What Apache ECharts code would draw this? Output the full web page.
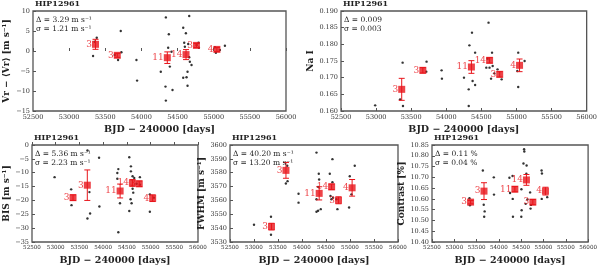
<!DOCTYPE html>
<html><head><meta charset="utf-8">
<script src="https://cdn.jsdelivr.net/npm/echarts@6/dist/echarts.min.js"></script>
<style>html,body{margin:0;padding:0;background:#fff}#c{width:600px;height:267px}</style>
</head><body><div id="c"></div>
<script>
// ---- data ----
const xTicks = [52500, 53000, 53500, 54000, 54500, 55000, 55500, 56000];
const binTimes = [53365, 53666, 54358, 54617, 54761, 55044];
const binCounts = [3, 3, 11, 14, 3, 4];

// RV
const rvT = [53382,53331,53354,53714,53677,53723,53631,53931,53940,54338,54379,54370,54416,54268,54393,54333,54430,54338,54661,54578,54615,54592,54601,54647,54661,54670,54693,54638,54624,54578,54638,54790,54795,54763,55030,55155,55016,55085];
const rvV = [3.3,-1.25,2.3,5.0,-2.25,-0.33,-1.0,-2.25,-7.4,8.4,4.17,0.83,-0.17,-5.17,-3.9,-8.9,-9.75,-12.4,8.75,5.83,4.42,2.08,1.08,1.75,-1.58,-2.67,-3.5,-5.17,-6.58,-6.67,-8.67,2.08,0.83,1.5,-0.42,1.33,0.92,0.25];
const rvBin = [1.67,-1.08,-1.67,-0.9,1.4,0.4];
const rvErr = [1.25,0.5,1.45,1.25,0.5,0.5];

// Na I
const naT = [52987,53378,53383,53342,53719,53715,53933,53938,54366,54329,54411,54252,54320,54375,54411,54320,54602,54652,54661,54570,54638,54684,54616,54588,54730,54789,55025,55116,55025,55012];
const naV = [0.1617,0.1745,0.1615,0.1635,0.1748,0.1718,0.1722,0.1697,0.1835,0.1797,0.1775,0.170,0.1665,0.169,0.1678,0.1615,0.1865,0.1775,0.1735,0.173,0.1697,0.1713,0.173,0.1757,0.1725,0.1695,0.1775,0.175,0.1672,0.172];
const naBin = [0.1665,0.1722,0.1732,0.1752,0.171,0.1737];
const naErr = [0.0033,0.0008,0.0019,0.0008,0.0008,0.0019];

// BIS
const bisT = [52976,53669,53326,53333,53711,53669,53725,53914,53921,54320,54299,54299,54355,54320,54551,54586,54586,54621,54656,54621,54635,54579,54600,54551,54775,54705,54775,54985,54985,55069];
const bisV = [-11.6,-2.0,-16.0,-21.7,-17.0,-26.5,-24.7,-4.6,-22.2,-8.7,-10.1,-12.2,-21.0,-31.5,-4.4,-7.7,-9.5,-11.3,-11.9,-15.8,-17.2,-19.6,-21.0,-23.8,-11.6,-14.0,-14.3,-17.8,-24.1,-19.0];
const bisBin = [-19.0,-14.5,-16.6,-13.7,-14.0,-19.2];
const bisErr = [1.0,5.5,2.5,1.2,1.0,1.2];

// FWHM
const fwT = [53000,53354,53354,53692,53664,53699,53928,53928,54302,54350,54357,54336,54302,54302,54336,54391,54579,54634,54634,54593,54648,54613,54738,54717,54995,55099,54981,55030];
const fwV = [3542.5,3548.2,3535.2,3585,3572.2,3573.9,3564.8,3558.4,3594.5,3579.3,3575.1,3569.8,3560.8,3551.8,3552.5,3553.7,3579.3,3589.8,3573.2,3563.2,3562.0,3560.8,3553.7,3560.8,3577.4,3585,3554.9,3564.4];
const fwBin = [3541.1,3581.7,3565.1,3569.8,3560.1,3569.1];
const fwErr = [2.4,5.7,4.75,2.0,2.5,6.0];

// Contrast
const ctT = [53340,53350,53640,53660,53680,53670,53886,53890,54236,54250,54306,54310,54315,54502,54505,54510,54551,54565,54570,54621,54615,54600,54640,54700,54720,54710,54957,54965,54960,55083];
const ctV = [10.603,10.57,10.732,10.573,10.542,10.517,10.70,10.62,10.698,10.627,10.706,10.60,10.517,10.517,10.645,10.547,10.764,10.83,10.82,10.755,10.717,10.577,10.597,10.63,10.572,10.555,10.732,10.718,10.60,10.608];
const ctBin = [10.585,10.636,10.645,10.688,10.585,10.636];
const ctErr = [0.008,0.039,0.012,0.025,0.012,0.018];

const yNames = ['Vr − ⟨Vr⟩ [m s⁻¹]', 'Na I', 'BIS [m s⁻¹]', 'FWHM [m s⁻¹]', 'Contrast [%]'];
const statText = [
  ['Δ = 3.29 m s⁻¹', 'σ = 1.21 m s⁻¹'],
  ['Δ = 0.009', 'σ = 0.003'],
  ['Δ = 5.36 m s⁻¹', 'σ = 2.23 m s⁻¹'],
  ['Δ = 40.20 m s⁻¹', 'σ = 13.20 m s⁻¹'],
  ['Δ = 0.11 %', 'σ = 0.04 %']
];
const objName = 'HIP12961';
const xName = 'BJD − 240000 [days]';

// ---- layout / styling ----
const SERIF = 'DejaVu Serif';
const grids = [
  {left: 33, top: 11, width: 253, height: 100},
  {left: 341, top: 11, width: 257, height: 100},
  {left: 32, top: 145, width: 166, height: 98},
  {left: 230, top: 145, width: 168, height: 98},
  {left: 432, top: 145, width: 166, height: 98}
];
const yCfg = [
  {min: -15, max: 10, interval: 5, dec: 0, gap: 22},
  {min: 0.160, max: 0.190, interval: 0.005, dec: 3, gap: 26},
  {min: -35, max: 0, interval: 5, dec: 0, gap: 20},
  {min: 3530, max: 3600, interval: 10, dec: 0, gap: 24},
  {min: 10.40, max: 10.85, interval: 0.05, dec: 2, gap: 26}
];
const panels = [
  [rvT, rvV, rvBin, rvErr], [naT, naV, naBin, naErr], [bisT, bisV, bisBin, bisErr],
  [fwT, fwV, fwBin, fwErr], [ctT, ctV, ctBin, ctErr]
];
const RED = '#e8141a';

const option = {animation: false, grid: [], xAxis: [], yAxis: [], series: [], graphic: []};
grids.forEach((g, i) => {
  option.grid.push(Object.assign({show: true, borderColor: '#555', borderWidth: 1.3, backgroundColor: '#fff'}, g));
  option.xAxis.push({
    gridIndex: i, type: 'value', min: xTicks[0], max: xTicks[xTicks.length - 1], interval: xTicks[1] - xTicks[0],
    axisLine: {show: false}, splitLine: {show: false},
    axisTick: {inside: true, length: 3, lineStyle: {color: '#555'}},
    axisLabel: {fontSize: i < 2 ? 6.5 : 5.6, fontFamily: SERIF, color: '#333', margin: 3, formatter: v => String(v)},
    name: xName, nameLocation: 'middle', nameGap: 14,
    nameTextStyle: {fontSize: 9.5, fontFamily: SERIF, fontWeight: 'bold', color: '#222'}
  });
  const c = yCfg[i];
  option.yAxis.push({
    gridIndex: i, type: 'value', min: c.min, max: c.max, interval: c.interval,
    axisLine: {show: false}, splitLine: {show: false},
    axisTick: {inside: true, length: 3, lineStyle: {color: '#555'}},
    axisLabel: {fontSize: 6.5, fontFamily: SERIF, color: '#333', margin: 3,
      formatter: v => v.toFixed(c.dec).replace('-', '−')},
    name: yNames[i], nameLocation: 'middle', nameGap: c.gap, nameRotate: 90,
    nameTextStyle: {fontSize: 9, fontFamily: SERIF, fontWeight: 'bold', color: '#222'}
  });
  const [t, v, b, e] = panels[i];
  option.series.push({
    type: 'scatter', xAxisIndex: i, yAxisIndex: i, symbolSize: 2.4,
    itemStyle: {color: '#000'}, data: t.map((tt, k) => [tt, v[k]]), z: 2
  });
  option.series.push({
    type: 'custom', xAxisIndex: i, yAxisIndex: i, z: 3,
    data: binTimes.map((tt, k) => [tt, b[k] - e[k], b[k] + e[k]]),
    renderItem: (params, api) => {
      const lo = api.coord([api.value(0), api.value(1)]);
      const hi = api.coord([api.value(0), api.value(2)]);
      const w = 3;
      const st = {stroke: RED, lineWidth: 1};
      return {type: 'group', children: [
        {type: 'line', shape: {x1: lo[0], y1: lo[1], x2: hi[0], y2: hi[1]}, style: st},
        {type: 'line', shape: {x1: lo[0] - w, y1: lo[1], x2: lo[0] + w, y2: lo[1]}, style: st},
        {type: 'line', shape: {x1: hi[0] - w, y1: hi[1], x2: hi[0] + w, y2: hi[1]}, style: st}
      ]};
    }
  });
  option.series.push({
    type: 'scatter', xAxisIndex: i, yAxisIndex: i, symbol: 'rect', symbolSize: 7, z: 4,
    itemStyle: {color: RED},
    data: binTimes.map((tt, k) => [tt, b[k], binCounts[k]]),
    label: {show: true, position: 'left', distance: 0, formatter: p => String(p.value[2]),
      color: RED, fontSize: 9, fontFamily: SERIF}
  });
  option.graphic.push({type: 'text', left: g.left + 2, top: g.top - 11,
    style: {text: objName, font: 'bold 8px "DejaVu Serif"', fill: '#222'}});
  option.graphic.push({type: 'text', left: g.left + 3, top: g.top + 5,
    style: {text: statText[i][0], font: '7.5px "DejaVu Serif"', fill: '#222'}, z: 10});
  option.graphic.push({type: 'text', left: g.left + 3, top: g.top + 14,
    style: {text: statText[i][1], font: '7.5px "DejaVu Serif"', fill: '#222'}, z: 10});
});

const chart = echarts.init(document.getElementById('c'), null, {renderer: 'canvas'});
chart.setOption(option);
</script></body></html>
